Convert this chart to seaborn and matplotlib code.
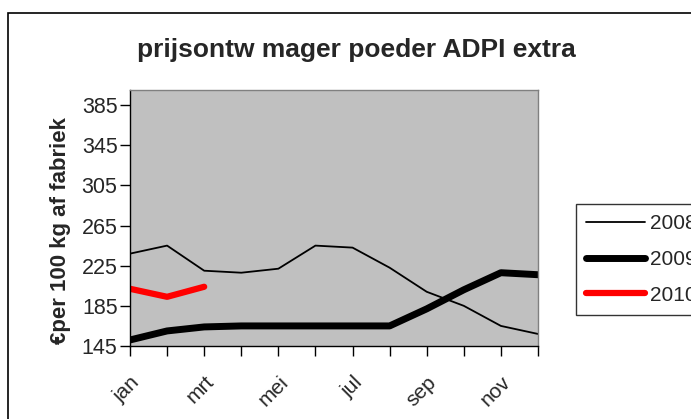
import pandas as pd
import seaborn as sns
import matplotlib.pyplot as plt
from matplotlib.patches import Rectangle

months = ['jan', 'feb', 'mrt', 'apr', 'mei', 'jun', 'jul', 'aug', 'sep', 'okt', 'nov', 'dec']
prices_2008 = [237, 245, 220, 218, 222, 245, 243, 223, 199, 185, 165, 157]
prices_2009 = [151, 160, 164, 165, 165, 165, 165, 165, 182, 201, 218, 216]
prices_2010 = [202, 194, 204]
yticks = [145, 185, 225, 265, 305, 345, 385]

sns.set_style('white')
plt.rcParams['font.family'] = ['Liberation Sans', 'DejaVu Sans']

rows = []
for year, vals in [('2008', prices_2008), ('2009', prices_2009), ('2010', prices_2010)]:
    for i, v in enumerate(vals):
        rows.append({'maand': i, 'prijs': v, 'jaar': year})
df = pd.DataFrame(rows)

fig = plt.figure(figsize=(6.91, 4.19), dpi=100)
# chart area border (cut off right and bottom like the screenshot)
fig.patches.append(Rectangle((8 / 691, -0.1), 1.2, (419 - 13) / 419 + 0.1,
                             transform=fig.transFigure, fill=False,
                             edgecolor='black', linewidth=1.2))

ax = fig.add_axes([130 / 691, (419 - 346) / 419, 408 / 691, 256 / 419])
ax.set_facecolor('#c0c0c0')

styles = {'2008': ('black', 1.3), '2009': ('black', 5), '2010': ('red', 4.5)}
for year, (col, lw) in styles.items():
    sns.lineplot(data=df[df['jaar'] == year], x='maand', y='prijs', color=col,
                 linewidth=lw, ax=ax, label=year, solid_capstyle='round')

ax.set_xlim(0, 11)
ax.set_ylim(145, 400)
ax.set_yticks(yticks)
ax.set_yticklabels([str(t) for t in yticks], fontsize=15.5)
ax.set_xticks(range(12))
ax.set_xticklabels([m if i % 2 == 0 else '' for i, m in enumerate(months)],
                   rotation=45, ha='right', rotation_mode='anchor', fontsize=15)
ax.tick_params(axis='both', direction='out', length=7, width=1, color='black',
               bottom=True, left=True, pad=2)
ax.tick_params(axis='x', pad=12)
ax.set_xlabel('')
ax.set_ylabel('€per 100 kg af fabriek', fontsize=16, fontweight='bold')
ax.yaxis.set_label_coords(-0.145, 0.45)

for side in ['left', 'bottom']:
    ax.spines[side].set_color('black')
    ax.spines[side].set_linewidth(1)
for side in ['top', 'right']:
    ax.spines[side].set_color('#808080')
    ax.spines[side].set_linewidth(1)

fig.text(356 / 691, 1 - 50 / 419, 'prijsontw mager poeder ADPI extra',
         ha='center', va='center', fontsize=19, fontweight='bold')

handles, labels = ax.get_legend_handles_labels()
ax.get_legend().remove()
leg = fig.legend(handles, labels, loc='lower left',
                 bbox_to_anchor=(576 / 691, (419 - 315) / 419),
                 frameon=True, fancybox=False, fontsize=15, handlelength=2.8,
                 handletextpad=0.25, labelspacing=0.8, borderpad=0.5,
                 borderaxespad=0)
leg.get_frame().set_edgecolor('black')
leg.get_frame().set_linewidth(1)

fig.savefig('out.png', dpi=100)
